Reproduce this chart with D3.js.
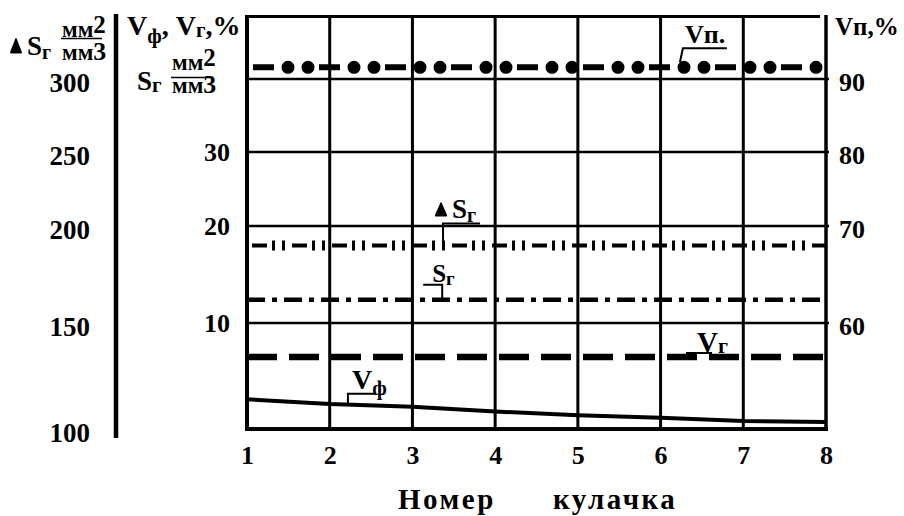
<!DOCTYPE html>
<html>
<head>
<meta charset="utf-8">
<script src="https://cdnjs.cloudflare.com/ajax/libs/d3/7.8.5/d3.min.js"></script>
<style>
    body { margin: 0; background: #fff; }
    text { font-family: "Liberation Serif", "Times New Roman", serif; font-weight: bold; fill: #000; }
</style>
</head>
<body>
<div id="chart"></div>
<script>
// номер кулачка
var cams = [1, 2, 3, 4, 5, 6, 7, 8];
// Vп, % (правая шкала)
var vp = [91.6, 91.6, 91.6, 91.6, 91.6, 91.6, 91.6, 91.6];
// ▲Sг, мм2/мм3 (левая шкала 100..300)
var sgFull = [190, 190, 190, 190, 190, 190, 190, 190];
// Sг, мм2/мм3 (внутренняя шкала)
var sg = [12.4, 12.4, 12.4, 12.4, 12.4, 12.4, 12.4, 12.4];
// Vг, %
var vg = [6.8, 6.8, 6.8, 6.8, 6.8, 6.8, 6.8, 6.8];
// Vф, %
var vf = [2.8, 2.35, 2.1, 1.65, 1.3, 1.05, 0.75, 0.65];

var innerTicks = [10, 20, 30];
var rightTicks = [60, 70, 80, 90];
var leftTicks = [100, 150, 200, 250, 300];

var W = 904, H = 516;
var svg = d3.select("#chart").append("svg")
    .attr("width", W)
    .attr("height", H);
svg.append("rect").attr("width", W).attr("height", H).attr("fill", "#fff");

// grid in the scan is not evenly spaced, so the scales are piecewise
var gridY = [429, 323, 226, 152, 79, 17];
var x = d3.scaleLinear().domain([1, 8]).range([247, 826]);
var yIn = d3.scaleLinear().domain([0, 10, 20, 30, 40, 48.5]).range(gridY);
var yRight = d3.scaleLinear().domain([50, 60, 70, 80, 90, 98.5]).range(gridY);
var yLeft = d3.scaleLinear().domain([100, 150, 200, 250, 300, 342.5]).range(gridY);

// grid
svg.append("g").selectAll("line")
    .data([10, 20, 30, 40])
    .enter().append("line")
    .attr("x1", x(1)).attr("x2", x(8) + 3)
    .attr("y1", function (d) { return yIn(d); })
    .attr("y2", function (d) { return yIn(d); })
    .attr("stroke", "#000").attr("stroke-width", 2.5);

svg.append("g").selectAll("line")
    .data([2, 3, 4, 5, 6, 7])
    .enter().append("line")
    .attr("x1", function (d) { return x(d); })
    .attr("x2", function (d) { return x(d); })
    .attr("y1", yIn(48.5)).attr("y2", yIn(0))
    .attr("stroke", "#000").attr("stroke-width", 3);

// frame
function rule(x1, y1, x2, y2, w) {
    svg.append("line")
        .attr("x1", x1).attr("y1", y1).attr("x2", x2).attr("y2", y2)
        .attr("stroke", "#000").attr("stroke-width", w);
}
rule(x(1), 15, x(1), 431, 4);
rule(x(1) - 2, yIn(0), x(8) + 2, yIn(0), 4);
rule(x(1), 16.5, x(8) - 6, 16.5, 3);
rule(x(8), 15, x(8), 431, 3.5);
rule(116, 14, 116, 438, 4.5);

// axes
function styleAxis(g, size, shift) {
    g.select(".domain").remove();
    g.selectAll("text").attr("font-size", size).attr("fill", "#000");
    if (shift) g.selectAll("text").attr("transform", "translate(0," + shift + ")");
}
svg.append("g")
    .attr("transform", "translate(" + x(1) + ",0)")
    .call(d3.axisLeft(yIn).tickValues(innerTicks).tickSize(0).tickPadding(17))
    .call(styleAxis, 26);
svg.append("g")
    .attr("transform", "translate(116,0)")
    .call(d3.axisLeft(yLeft).tickValues(leftTicks).tickSize(0).tickPadding(26))
    .call(styleAxis, 27, 4);
svg.append("g")
    .attr("transform", "translate(" + x(8) + ",0)")
    .call(d3.axisRight(yRight).tickValues(rightTicks).tickSize(0).tickPadding(13))
    .call(styleAxis, 26, 3);
svg.append("g")
    .attr("transform", "translate(0," + yIn(0) + ")")
    .call(d3.axisBottom(x).tickValues(cams).tickFormat(d3.format("d")).tickSize(0).tickPadding(17))
    .call(styleAxis, 26);

// series
function series(values, y, width, dash, offset, cap) {
    var line = d3.line()
        .x(function (d, i) { return x(cams[i]); })
        .y(function (d) { return y(d); });
    svg.append("path")
        .datum(values)
        .attr("d", line)
        .attr("fill", "none")
        .attr("stroke", "#000")
        .attr("stroke-width", width)
        .attr("stroke-dasharray", dash)
        .attr("stroke-dashoffset", offset || 0)
        .attr("stroke-linecap", cap || "butt");
}
// Vп: dash + two dots
series(vp, yRight, 6, "21 45", 60);
series(vp, yRight, 13, "0 20 0 46", 25, "round");
// ▲Sг: dash + two ticks
series(sgFull, yLeft, 4, "15 25", 35);
series(sgFull, yLeft, 10, "0 20 3 7 3 7", 35);
// Sг: dash-dot
series(sg, yIn, 4.5, "18 7 5 7", 0);
// Vг: dashed
series(vg, yIn, 6.5, "30 12", 0);
// Vф: solid
series(vf, yIn, 4, null, 0);

// text with sub/superscripts: parts = [text, size, baseline shift]
function rich(tx, ty, parts) {
    var t = svg.append("text").attr("x", tx).attr("y", ty);
    var prev = 0;
    parts.forEach(function (p) {
        t.append("tspan")
            .attr("font-size", p[1])
            .attr("dy", p[2] - prev)
            .text(p[0]);
        prev = p[2];
    });
    return t;
}
function triangle(cx, cy, size, stretch) {
    svg.append("path")
        .attr("d", d3.symbol().type(d3.symbolTriangle).size(size)())
        .attr("transform", "translate(" + cx + "," + cy + ") scale(1," + stretch + ")")
        .attr("fill", "#000")
        .attr("stroke", "#000")
        .attr("stroke-width", 1.5)
        .attr("stroke-linejoin", "round");
}
function fraction(fx, top, bottom, lineY, len) {
    rich(fx, top, [["мм", 23, 0], ["2", 25, -4]]);
    rule(fx - 1, lineY, fx - 1 + len, lineY, 1.5);
    rich(fx, bottom, [["мм", 23, 0], ["3", 26, 0]]);
}

// axis titles
triangle(16, 48, 45, 1.5);
rich(27, 55, [["S", 27, 0], ["г", 20, 4]]);
fraction(62, 37, 60, 38.5, 41);

rich(127, 35, [["V", 28, 0], ["ф", 21, 8], [", ", 28, 0], ["V", 28, 0], ["г", 21, 2], [",%", 28, 0]]);
rich(137, 90, [["S", 27, 0], ["г", 21, 2]]);
fraction(172, 70, 93, 77.5, 42);

rich(835, 35, [["Vп,%", 25, 0]]);

svg.append("text").attr("x", 398).attr("y", 509)
    .attr("font-size", 29).attr("letter-spacing", 2.5).text("Номер");
svg.append("text").attr("x", 553).attr("y", 509)
    .attr("font-size", 29).attr("letter-spacing", 2.5).text("кулачка");

// leader notes, anchored on the series
function note(cam, value, y, pts) {
    var ax = x(cam), ay = y(value);
    svg.append("path")
        .attr("d", d3.line()(pts.map(function (p) { return [ax + p[0], ay + p[1]]; })))
        .attr("fill", "none")
        .attr("stroke", "#000")
        .attr("stroke-width", 2);
    return [ax, ay];
}
var vfAt = d3.scaleLinear().domain(cams).range(vf);

var a = note(6.27, vp[6], yRight, [[-3, -5], [0, -19], [44, -19]]);
rich(a[0] + 2, a[1] - 24, [["Vп.", 26, 0]]);

a = note(3.37, sgFull[3], yLeft, [[0, 0], [0, -22], [37, -22]]);
triangle(a[0] - 2, a[1] - 34, 50, 1.3);
rich(a[0] + 9, a[1] - 27, [["S", 27, 0], ["г", 20, 4]]);

a = note(3.36, sg[3], yIn, [[0, 0], [0, -15], [-19, -15]]);
rich(a[0] - 10, a[1] - 18, [["S", 25, 0], ["г", 19, 3]]);

a = note(6.32, vg[6], yIn, [[0, 0], [0, -4], [25, -4]]);
rich(a[0] + 10, a[1] - 5, [["V", 29, 0], ["г", 22, 1]]);

a = note(2.22, vfAt(2.22), yIn, [[0, 0], [0, -11], [27, -11]]);
rich(a[0] + 4, a[1] - 16, [["V", 28, 0], ["ф", 21, 6]]);
</script>
</body>
</html>
